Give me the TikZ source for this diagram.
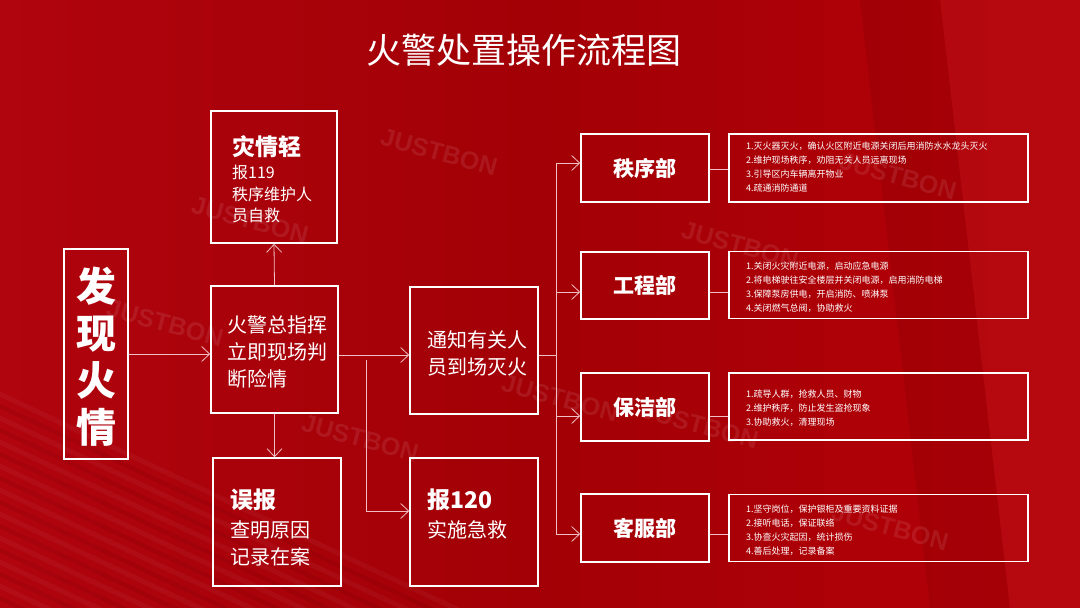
\documentclass[tikz,border=0pt]{standalone}
\usepackage{fontspec}
\setmainfont{Noto Sans CJK SC}
\newfontfamily\wmfont{Liberation Sans}
\usetikzlibrary{arrows.meta}
\definecolor{bgL}{RGB}{176,4,14}
\definecolor{bgM}{RGB}{162,0,6}
\definecolor{bgR}{RGB}{182,0,8}
\definecolor{conncol}{RGB}{240,190,195}
\begin{document}
\begin{tikzpicture}[x=1pt,y=-1pt,
  box/.style={draw=white,line width=1.6pt,inner sep=0pt},
  conn/.style={draw=conncol,line width=0.8pt},
  arr/.style={conn,-{Straight Barb[length=8pt,width=15pt,line width=0.8pt]}},
  txt/.style={text=white,inner sep=0pt,align=left},
  head/.style={txt,font=\bfseries\fontsize{23}{27}\selectfont},
  body/.style={txt,font=\fontsize{20}{27}\selectfont},
  dept/.style={txt,font=\bfseries\fontsize{21}{25}\selectfont},
  detail/.style={txt,font=\fontsize{9}{14}\selectfont},
  wm/.style={text=white,opacity=0.09,font=\wmfont\bfseries\fontsize{25}{25}\selectfont,rotate=-15,inner sep=0pt}
]
\useasboundingbox (0,0) rectangle (1080,608);
% background
\fill[left color=bgL,right color=bgM] (0,0) rectangle (540,608);
\fill[left color=bgM,right color=bgR] (540,0) rectangle (1080,608);
\fill[black,opacity=0.07] (860,0) -- (940,0) -- (1010,608) -- (930,608) -- cycle;
\fill[white,opacity=0.03] (940,0) -- (1080,0) -- (1080,608) -- (1010,608) -- cycle;
\foreach \k in {0,...,12}{
  \draw[white,opacity=0.04,line width=5pt] (-30,380+\k*24) -- (480,620+\k*24);
  \draw[black,opacity=0.05,line width=4pt] (-30,392+\k*24) -- (480,632+\k*24);
}
% watermarks
\node[wm] (w1) at (439,152) {JUSTBON};
\node[wm] (w2) at (250,220) {JUSTBON};
\node[wm] (w3) at (165,323) {JUSTBON};
\node[wm] (w4) at (360,438) {JUSTBON};
\node[wm] (w5) at (560,398) {JUSTBON};
\node[wm] (w6) at (740,245) {JUSTBON};
\node[wm] (w7) at (898,176) {JUSTBON};
\node[wm] (w8) at (700,425) {JUSTBON};
\node[wm] (w9) at (890,527) {JUSTBON};
% title
\node[text=white,inner sep=0pt,font=\fontsize{35}{40}\selectfont] (title) at (524,50) {火警处置操作流程图};
% boxes
\node[box,minimum width=64,minimum height=210] (fx) at (96,354) {};
\node[text=white,inner sep=0pt,align=center,font=\bfseries\fontsize{40}{47}\selectfont] (fxt) at (96,357) {发\\现\\火\\情};
\node[box,minimum width=126,minimum height=132] (zq) at (274,177) {};
\node[head,anchor=west] (zqh) at (232,147) {灾情轻};
\node[txt,anchor=west,font=\fontsize{16}{21.5}\selectfont] (zqb) at (232,194) {报119\\秩序维护人\\员自救};
\node[box,minimum width=127,minimum height=127] (zh) at (274.5,349.5) {};
\node[body,anchor=west] (zht) at (227,352) {火警总指挥\\立即现场判\\断险情};
\node[box,minimum width=128,minimum height=128] (wb) at (277,522) {};
\node[head,anchor=west] (wbh) at (230,500) {误报};
\node[body,anchor=west] (wbb) at (230,543.5) {查明原因\\记录在案};
\node[box,minimum width=128,minimum height=127] (tz) at (474,350.5) {};
\node[body,anchor=west] (tzt) at (427,353) {通知有关人\\员到场灭火};
\node[box,minimum width=128,minimum height=128] (bj) at (474,522) {};
\node[head,anchor=west] (bjh) at (427,500) {报120};
\node[body,anchor=west] (bjb) at (427,530) {实施急救};
% departments
\node[box,minimum width=128,minimum height=68] (d1) at (645,168) {};
\node[dept] (d1t) at (d1) {秩序部};
\node[box,minimum width=128,minimum height=67] (d2) at (645,285.5) {};
\node[dept] (d2t) at (d2) {工程部};
\node[box,minimum width=128,minimum height=68] (d3) at (645,407) {};
\node[dept] (d3t) at (d3) {保洁部};
\node[box,minimum width=128,minimum height=68] (d4) at (645,528) {};
\node[dept] (d4t) at (d4) {客服部};
% details
\node[box,minimum width=299,minimum height=68] (e1) at (878.5,168) {};
\node[detail,anchor=west] (e1t) at (746,167) {1.灭火器灭火，确认火区附近电源关闭后用消防水水龙头灭火\\2.维护现场秩序，劝阻无关人员远离现场\\3.引导区内车辆离开物业\\4.疏通消防通道};
\node[box,minimum width=299,minimum height=67] (e2) at (878.5,285) {};
\node[detail,anchor=west] (e2t) at (746,287) {1.关闭火灾附近电源，启动应急电源\\2.将电梯驶往安全楼层并关闭电源，启用消防电梯\\3.保障泵房供电，开启消防、喷淋泵\\4.关闭燃气总阀，协助救火};
\node[box,minimum width=299,minimum height=67] (e3) at (878.5,406.5) {};
\node[detail,anchor=west] (e3t) at (746,408) {1.疏导人群，抢救人员、财物\\2.维护秩序，防止发生盗抢现象\\3.协助救火，清理现场};
\node[box,minimum width=299,minimum height=67] (e4) at (878.5,528) {};
\node[detail,anchor=west] (e4t) at (746,530) {1.坚守岗位，保护银柜及重要资料证据\\2.接听电话，保证联络\\3.协查火灾起因，统计损伤\\4.善后处理，记录备案};
% connectors
\coordinate (j1) at (366,355);
\coordinate (j2) at (366,360);
\coordinate (j3) at (366,511);
\coordinate (b0) at (556,355);
\coordinate (bt) at (556,163);
\coordinate (bb) at (556,534);
\coordinate (a1) at (556,163);
\coordinate (a2) at (556,292);
\coordinate (a3) at (556,416);
\coordinate (a4) at (556,534);
\coordinate (c1) at (720,169);
\draw[arr] (fx.east) -- (fx.east -| zh.west);
\draw[arr] (zh.north) -- (zq.south);
\draw[arr] (zh.south) -- (zh.south |- wb.north);
\draw[arr] (zh.east |- j1) -- (tz.west |- j1);
\draw[conn] (j2) -- (j3);
\draw[arr] (j3) -- (bj.west |- j3);
\draw[conn] (tz.east |- b0) -- (b0);
\draw[conn] (bt) -- (bb);
\draw[arr] (a1) -- (d1.west |- a1);
\draw[arr] (a2) -- (d2.west |- a2);
\draw[arr] (a3) -- (d3.west |- a3);
\draw[arr] (a4) -- (d4.west |- a4);
\draw[conn] (d1.east |- c1) -- (e1.west |- c1);
\draw[conn] (d2.east |- a2) -- (e2.west |- a2);
\draw[conn] (d3.east |- a3) -- (e3.west |- a3);
\draw[conn] (d4.east |- a4) -- (e4.west |- a4);
\end{tikzpicture}
\end{document}
